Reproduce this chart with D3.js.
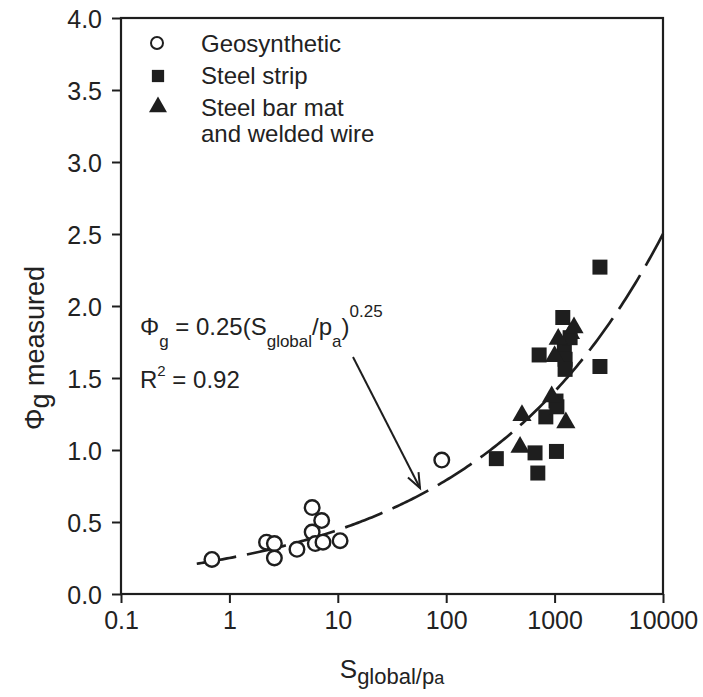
<!DOCTYPE html>
<html>
<head>
<meta charset="utf-8">
<script src="https://cdn.jsdelivr.net/npm/d3@7"></script>
<style>
  body { margin: 0; background: #fff; }
  svg text { font-family: "Liberation Sans", Arial, sans-serif; fill: #222; }
</style>
</head>
<body>
<svg id="chart" width="703" height="697"></svg>
<script>
// ---- data ----
const geoX = [0.69, 2.2, 2.6, 2.6, 4.2, 5.8, 7.1, 5.8, 6.2, 7.3, 10.5, 91];
const geoY = [0.24, 0.36, 0.35, 0.25, 0.31, 0.60, 0.51, 0.43, 0.35, 0.36, 0.37, 0.93];

const stripX = [290, 660, 700, 830, 1030, 1050, 1040, 720, 1190, 1230, 1250, 1250, 1390, 2620, 2620];
const stripY = [0.94, 0.98, 0.84, 1.23, 1.34, 1.30, 0.99, 1.66, 1.92, 1.72, 1.63, 1.56, 1.78, 2.27, 1.58];

const barX = [480, 500, 940, 1080, 1270, 1400, 1510, 1000];
const barY = [1.02, 1.24, 1.37, 1.77, 1.19, 1.81, 1.85, 1.65];

const xTicks = [0.1, 1, 10, 100, 1000, 10000];
const xTickLabels = ["0.1", "1", "10", "100", "1000", "10000"];
const yTicks = [0, 0.5, 1, 1.5, 2, 2.5, 3, 3.5, 4];
const yTickLabels = ["0.0", "0.5", "1.0", "1.5", "2.0", "2.5", "3.0", "3.5", "4.0"];

const legendLabels = ["Geosynthetic", "Steel strip", "Steel bar mat", "and welded wire"];

// fitted curve stated on the chart: Phi_g = 0.25 (S/pa)^0.25
const fitA = 0.25, fitB = 0.25;
const fitStart = 0.5, fitEnd = 10000;

// ---- layout ----
const mLeft = 121, mRight = 663, mTop = 18, mBottom = 594;
const svg = d3.select("#chart");
const x = d3.scaleLog().domain([0.1, 10000]).range([mLeft, mRight]);
const y = d3.scaleLinear().domain([0, 4]).range([mBottom, mTop]);
const ink = "#1e1e1e";

// axes
const xAxis = d3.axisBottom(x).tickValues(xTicks).tickFormat((d, i) => xTickLabels[i]).tickSize(9).tickSizeOuter(0);
const yAxis = d3.axisLeft(y).tickValues(yTicks).tickFormat((d, i) => yTickLabels[i]).tickSize(9).tickSizeOuter(0);

const gx = svg.append("g").attr("transform", `translate(0,${mBottom})`).call(xAxis);
const gy = svg.append("g").attr("transform", `translate(${mLeft},0)`).call(yAxis);
[gx, gy].forEach(g => {
  g.select(".domain").remove();
  g.selectAll(".tick line").attr("stroke", ink).attr("stroke-width", 2);
  g.selectAll(".tick text").attr("font-size", 25).attr("fill", "#222")
    .attr("font-family", "Liberation Sans, Arial, sans-serif");
});
gx.selectAll(".tick text").attr("dy", null).attr("y", 35);
gy.selectAll(".tick text").attr("x", -19).attr("dy", "0.36em");

// frame
svg.append("rect").attr("x", mLeft).attr("y", mTop)
  .attr("width", mRight - mLeft).attr("height", mBottom - mTop)
  .attr("fill", "none").attr("stroke", ink).attr("stroke-width", 2.2);

// fit curve
const curvePts = d3.range(0, 201).map(i => {
  const lx = Math.log10(fitStart) + (Math.log10(fitEnd) - Math.log10(fitStart)) * i / 200;
  const v = Math.pow(10, lx);
  return [v, fitA * Math.pow(v, fitB)];
});
svg.append("path").datum(curvePts)
  .attr("d", d3.line().x(d => x(d[0])).y(d => y(d[1])))
  .attr("fill", "none").attr("stroke", ink).attr("stroke-width", 2.7)
  .attr("stroke-dasharray", "40,11");

// markers
const sym = (type, size) => d3.symbol().type(type).size(size)();
const circleData = geoX.map((v, i) => [v, geoY[i]]);
const squareData = stripX.map((v, i) => [v, stripY[i]]);
const triData = barX.map((v, i) => [v, barY[i]]);

svg.append("g").selectAll("path").data(squareData).join("path")
  .attr("d", sym(d3.symbolSquare, 225))
  .attr("transform", d => `translate(${x(d[0])},${y(d[1])})`)
  .attr("fill", ink);
svg.append("g").selectAll("path").data(triData).join("path")
  .attr("d", sym(d3.symbolTriangle, 160))
  .attr("transform", d => `translate(${x(d[0])},${y(d[1])})`)
  .attr("fill", ink);
svg.append("g").selectAll("circle").data(circleData).join("circle")
  .attr("cx", d => x(d[0])).attr("cy", d => y(d[1])).attr("r", 7.3)
  .attr("fill", "#fff").attr("stroke", ink).attr("stroke-width", 2.4);

// legend
const lg = svg.append("g");
lg.append("circle").attr("cx", 157).attr("cy", 43).attr("r", 6)
  .attr("fill", "#fff").attr("stroke", ink).attr("stroke-width", 2);
lg.append("path").attr("d", sym(d3.symbolSquare, 150)).attr("transform", "translate(158,76)").attr("fill", ink);
lg.append("path").attr("d", sym(d3.symbolTriangle, 140)).attr("transform", "translate(158,107)").attr("fill", ink);
const legY = [52, 84, 116, 142];
legendLabels.forEach((t, i) => {
  lg.append("text").attr("x", 201).attr("y", legY[i]).attr("font-size", 24).text(t);
});

// annotation
const ann = svg.append("text").attr("x", 140).attr("y", 335).attr("font-size", 24);
ann.append("tspan").text("Φ");
ann.append("tspan").attr("font-size", 17).attr("dy", 12).text("g");
ann.append("tspan").attr("dy", -12).text(" = 0.25(S");
ann.append("tspan").attr("font-size", 17).attr("dy", 12).text("global");
ann.append("tspan").attr("dy", -12).text("/p");
ann.append("tspan").attr("font-size", 17).attr("dy", 12).text("a");
ann.append("tspan").attr("dy", -12).text(")");
ann.append("tspan").attr("font-size", 17).attr("dy", -18).text("0.25");

const r2 = svg.append("text").attr("x", 140).attr("y", 388).attr("font-size", 24);
r2.append("tspan").text("R");
r2.append("tspan").attr("font-size", 15).attr("dy", -12).text("2");
r2.append("tspan").attr("dy", 12).text(" = 0.92");

// arrow
const ax0 = 353, ay0 = 357, ax1 = 420, ay1 = 488;
svg.append("line").attr("x1", ax0).attr("y1", ay0).attr("x2", ax1).attr("y2", ay1)
  .attr("stroke", ink).attr("stroke-width", 2);
const ang = Math.atan2(ay1 - ay0, ax1 - ax0);
const hl = 16, ha = 0.38;
svg.append("path")
  .attr("d", `M${ax1 - hl * Math.cos(ang - ha)},${ay1 - hl * Math.sin(ang - ha)} L${ax1},${ay1} L${ax1 - hl * Math.cos(ang + ha)},${ay1 - hl * Math.sin(ang + ha)}`)
  .attr("fill", "none").attr("stroke", ink).attr("stroke-width", 2);

// axis titles
const xt = svg.append("text").attr("x", 392).attr("y", 678).attr("text-anchor", "middle").attr("font-size", 26);
xt.append("tspan").text("S");
xt.append("tspan").attr("font-size", 22).attr("dy", 6).text("global/p");
xt.append("tspan").attr("font-size", 18).attr("dy", 0).text("a");

const yt = svg.append("text").attr("transform", "translate(44,348) rotate(-90)")
  .attr("text-anchor", "middle").attr("font-size", 27);
yt.append("tspan").text("Φ");
yt.append("tspan").attr("dy", 5).text("g");
yt.append("tspan").attr("dy", -5).text(" measured");
</script>
</body>
</html>
